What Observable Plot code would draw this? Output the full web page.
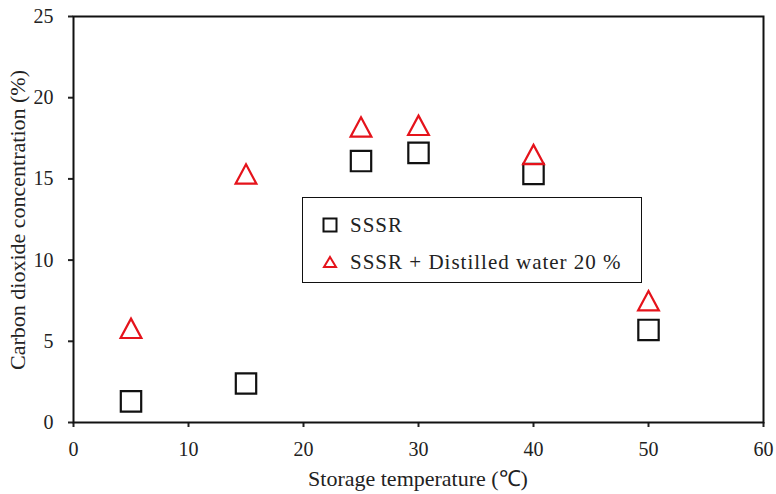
<!DOCTYPE html>
<html>
<head>
<meta charset="utf-8">
<script src="https://cdn.jsdelivr.net/npm/d3@7"></script>
<script src="https://cdn.jsdelivr.net/npm/@observablehq/plot@0.6"></script>
<style>
  html, body { margin: 0; padding: 0; background: #fff; }
  #wrap { position: relative; width: 776px; height: 494px; font-family: "Liberation Serif", "Times New Roman", serif; }
  #legend { position: absolute; left: 302px; top: 197px; width: 340px; height: 86px; border: 1.5px solid #111; background: #fff; box-sizing: border-box; }
  .li { position: absolute; left: 0; height: 30px; display: flex; align-items: center; font-size: 21px; letter-spacing: 1px; color: #222; white-space: nowrap; }
  .li svg { margin-left: 19px; margin-right: 12px; }
</style>
</head>
<body>
<div id="wrap"></div>
<script>
const temps = [5, 15, 25, 30, 40, 50];
const sssr = [1.3, 2.4, 16.1, 16.6, 15.3, 5.7];
const sssrWater = [5.8, 15.3, 18.2, 18.3, 16.5, 7.5];
const xTicks = [0, 10, 20, 30, 40, 50, 60];
const yTicks = [0, 5, 10, 15, 20, 25];
const seriesNames = ["SSSR", "SSSR + Distilled water 20 %"];
const xTitle = "Storage temperature (℃)";
const yTitle = "Carbon dioxide concentration (%)";

const RED = "#e5131b";

const centeredTriangle = {
  draw(ctx, size) {
    const s = Math.sqrt(size);
    const w = s * 1.02, h = s * 0.95;
    ctx.moveTo(0, -h / 2);
    ctx.lineTo(w / 2, h / 2);
    ctx.lineTo(-w / 2, h / 2);
    ctx.closePath();
  }
};

const rowsA = temps.map((t, i) => ({t, v: sssr[i]}));
const rowsB = temps.map((t, i) => ({t, v: sssrWater[i]}));

const chart = Plot.plot({
  width: 776,
  height: 494,
  marginLeft: 73,
  marginRight: 13,
  marginTop: 16,
  marginBottom: 72,
  style: { fontFamily: "'Liberation Serif', 'Times New Roman', serif", fontSize: "20px", color: "#222", background: "#fff" },
  x: { domain: [0, 60] },
  y: { domain: [0, 25] },
  marks: [
    Plot.axisX({ ticks: xTicks, tickSize: 5, tickPadding: 14, strokeWidth: 2, label: null, fontSize: 20 }),
    Plot.axisY({ ticks: yTicks, tickSize: 5, tickPadding: 15, strokeWidth: 2, label: null, fontSize: 20 }),
    Plot.frame({ stroke: "#111", strokeWidth: 2 }),
    Plot.dot(rowsA, { x: "t", y: "v", symbol: "square", r: 11.5, stroke: "#111", strokeWidth: 2.2, fill: "none" }),
    Plot.dot(rowsB, { x: "t", y: "v", symbol: centeredTriangle, r: 11.5, stroke: RED, strokeWidth: 2.2, fill: "none" })
  ]
});

const svg = d3.select(chart);
svg.append("text")
  .attr("x", 418).attr("y", 486)
  .attr("text-anchor", "middle")
  .attr("fill", "#222")
  .style("font-size", "22px")
  .text(xTitle);
svg.append("text")
  .attr("transform", "translate(25,220) rotate(-90)")
  .attr("text-anchor", "middle")
  .attr("fill", "#222")
  .style("font-size", "22px")
  .text(yTitle);

const wrap = document.getElementById("wrap");
wrap.appendChild(chart);

const legend = document.createElement("div");
legend.id = "legend";
legend.innerHTML = `
  <div class="li" style="top:12px">
    <svg width="16" height="16" viewBox="0 0 16 16"><rect x="1.5" y="1.5" width="13" height="13" fill="none" stroke="#111" stroke-width="2"/></svg>
    <span>${seriesNames[0]}</span>
  </div>
  <div class="li" style="top:49px">
    <svg width="16" height="14" viewBox="0 0 16 14"><path d="M8 2 L14 12 L2 12 Z" fill="none" stroke="${RED}" stroke-width="2"/></svg>
    <span>${seriesNames[1]}</span>
  </div>`;
wrap.appendChild(legend);
</script>
</body>
</html>
